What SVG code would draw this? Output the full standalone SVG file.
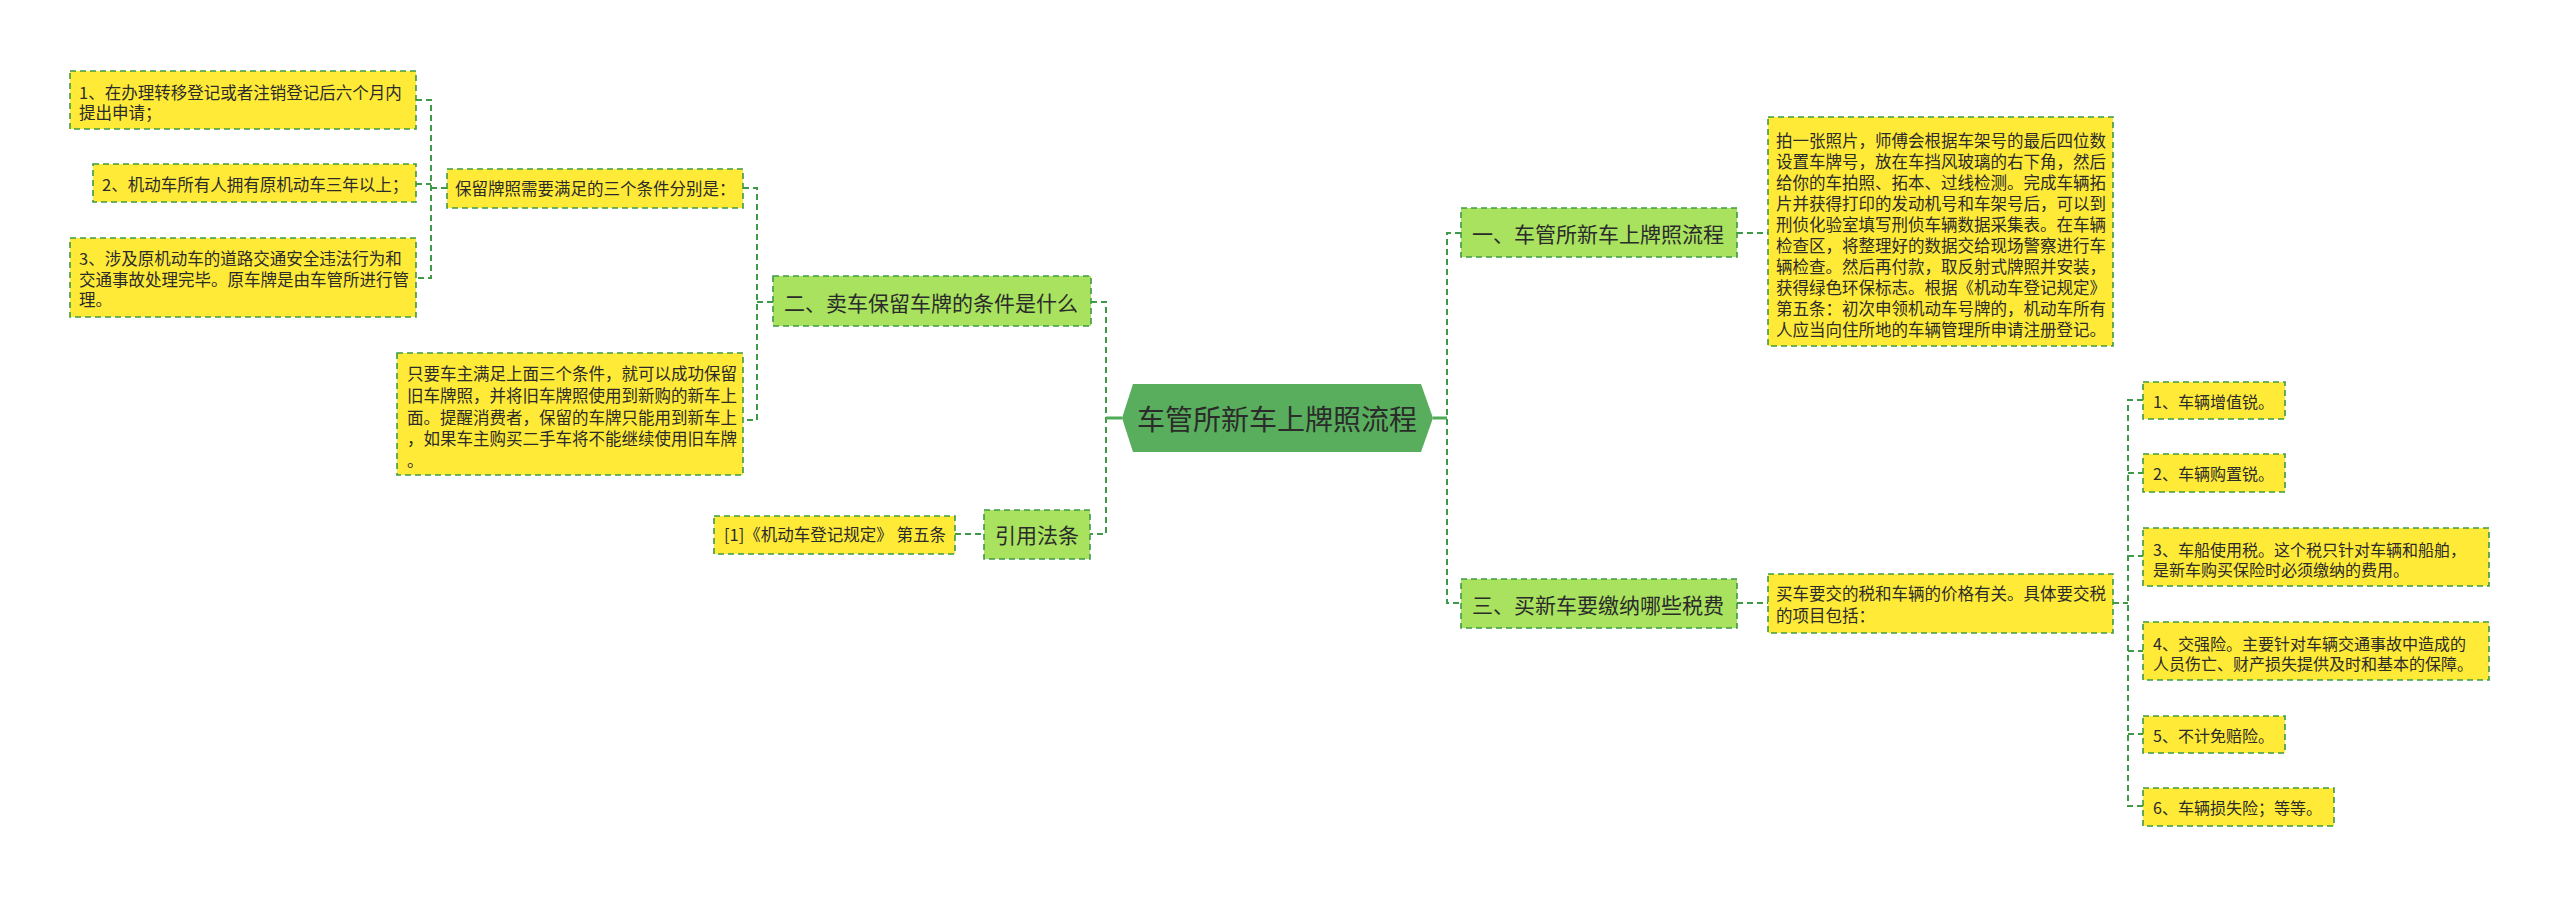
<svg xmlns="http://www.w3.org/2000/svg" width="2560" height="897" viewBox="0 0 2560 897">
<style>
text{font-family:"Noto Sans CJK SC","Microsoft YaHei",sans-serif;fill:#2b2b2b;dominant-baseline:central}
.y{fill:#FFEA38;stroke:#3E9A46;stroke-width:1.6;stroke-dasharray:6 4}
.g{fill:#A8E25E;stroke:#3E9A46;stroke-width:1.6;stroke-dasharray:6 4}
.s{font-size:16.5px}
.r{font-size:16px}
.m{font-size:21px}
.c{font-size:28px}
.ln{fill:none;stroke:#3E9A46;stroke-width:2;stroke-dasharray:6 4}
.sl{fill:none;stroke:#4DAA55;stroke-width:3}
</style>
<rect width="2560" height="897" fill="#ffffff"/>
<g id="connectors">
<path class="ln" d="M416 100H431V278H416M416 184H431M431 188H447"/>
<path class="ln" d="M743 188H757V420H743M757 302H773"/>
<path class="ln" d="M1091 302H1106V534H1090"/>
<path class="sl" d="M1106 418H1122"/>
<path class="ln" d="M955 534H984"/>
<path class="sl" d="M1433 418H1447"/>
<path class="ln" d="M1461 233H1447V603H1461"/>
<path class="ln" d="M1737 233H1768M1737 603H1768"/>
<path class="ln" d="M2113 603H2128M2143 400H2128V806H2143M2128 473H2143M2128 556H2143M2128 651H2143M2128 734H2143"/>
</g>
<g id="center">
<polygon points="1122,418 1133,384 1421,384 1433,418 1421,452 1133,452" fill="#58AE5C"/>
<text class="c" x="1277" y="418" text-anchor="middle">车管所新车上牌照流程</text>
</g>
<g id="n-left1">
<rect class="y" x="70" y="71" width="346" height="58"/>
<text class="s" x="79" y="92">1、在办理转移登记或者注销登记后六个月内</text>
<text class="s" x="79" y="112">提出申请；</text>
</g>
<g id="n-left2">
<rect class="y" x="93" y="164" width="323" height="38"/>
<text class="s" x="102" y="184">2、机动车所有人拥有原机动车三年以上；</text>
</g>
<g id="n-left3">
<rect class="y" x="70" y="238" width="346" height="79"/>
<text class="s" x="79" y="258">3、涉及原机动车的道路交通安全违法行为和</text>
<text class="s" x="79" y="279">交通事故处理完毕。原车牌是由车管所进行管</text>
<text class="s" x="79" y="299">理。</text>
</g>
<g id="n-baoliu">
<rect class="y" x="447" y="169" width="296" height="39"/>
<text class="s" x="455" y="188">保留牌照需要满足的三个条件分别是：</text>
</g>
<g id="n-zhiyao">
<rect class="y" x="397" y="353" width="346" height="122"/>
<text class="s" x="407" y="373">只要车主满足上面三个条件，就可以成功保留</text>
<text class="s" x="407" y="395">旧车牌照，并将旧车牌照使用到新购的新车上</text>
<text class="s" x="407" y="417">面。提醒消费者，保留的车牌只能用到新车上</text>
<text class="s" x="407" y="438">，如果车主购买二手车将不能继续使用旧车牌</text>
<text class="s" x="407" y="460">。</text>
</g>
<g id="n-er">
<rect class="g" x="773" y="276" width="318" height="50"/>
<text class="m" x="784" y="302">二、卖车保留车牌的条件是什么</text>
</g>
<g id="n-yinyong">
<rect class="g" x="984" y="510" width="106" height="49"/>
<text class="m" x="1037" y="534" text-anchor="middle">引用法条</text>
</g>
<g id="n-ref">
<rect class="y" x="714" y="516" width="241" height="38"/>
<text class="s" x="724" y="534">[1]《机动车登记规定》 第五条</text>
</g>
<g id="n-yi">
<rect class="g" x="1461" y="208" width="276" height="49"/>
<text class="m" x="1472" y="233">一、车管所新车上牌照流程</text>
</g>
<g id="n-yi-text">
<rect class="y" x="1768" y="117" width="345" height="229"/>
<text class="s" x="1776" y="140">拍一张照片，师傅会根据车架号的最后四位数</text>
<text class="s" x="1776" y="161">设置车牌号，放在车挡风玻璃的右下角，然后</text>
<text class="s" x="1776" y="182">给你的车拍照、拓本、过线检测。完成车辆拓</text>
<text class="s" x="1776" y="203">片并获得打印的发动机号和车架号后，可以到</text>
<text class="s" x="1776" y="224">刑侦化验室填写刑侦车辆数据采集表。在车辆</text>
<text class="s" x="1776" y="245">检查区，将整理好的数据交给现场警察进行车</text>
<text class="s" x="1776" y="266">辆检查。然后再付款，取反射式牌照并安装，</text>
<text class="s" x="1776" y="287">获得绿色环保标志。根据《机动车登记规定》</text>
<text class="s" x="1776" y="308">第五条：初次申领机动车号牌的，机动车所有</text>
<text class="s" x="1776" y="329">人应当向住所地的车辆管理所申请注册登记。</text>
</g>
<g id="n-san">
<rect class="g" x="1461" y="579" width="276" height="49"/>
<text class="m" x="1472" y="604">三、买新车要缴纳哪些税费</text>
</g>
<g id="n-san-text">
<rect class="y" x="1768" y="574" width="345" height="59"/>
<text class="s" x="1776" y="593">买车要交的税和车辆的价格有关。具体要交税</text>
<text class="s" x="1776" y="615">的项目包括：</text>
</g>
<g id="n-t1">
<rect class="y" x="2143" y="382" width="142" height="37"/>
<text class="r" x="2153" y="401">1、车辆增值锐。</text>
</g>
<g id="n-t2">
<rect class="y" x="2143" y="454" width="142" height="38"/>
<text class="r" x="2153" y="473">2、车辆购置锐。</text>
</g>
<g id="n-t3">
<rect class="y" x="2143" y="528" width="346" height="58"/>
<text class="r" x="2153" y="549">3、车船使用税。这个税只针对车辆和船舶，</text>
<text class="r" x="2153" y="569">是新车购买保险时必须缴纳的费用。</text>
</g>
<g id="n-t4">
<rect class="y" x="2143" y="622" width="346" height="58"/>
<text class="r" x="2153" y="643">4、交强险。主要针对车辆交通事故中造成的</text>
<text class="r" x="2153" y="663">人员伤亡、财产损失提供及时和基本的保障。</text>
</g>
<g id="n-t5">
<rect class="y" x="2143" y="716" width="142" height="37"/>
<text class="r" x="2153" y="735">5、不计免赔险。</text>
</g>
<g id="n-t6">
<rect class="y" x="2143" y="788" width="191" height="38"/>
<text class="r" x="2153" y="807">6、车辆损失险；等等。</text>
</g>
</svg>
